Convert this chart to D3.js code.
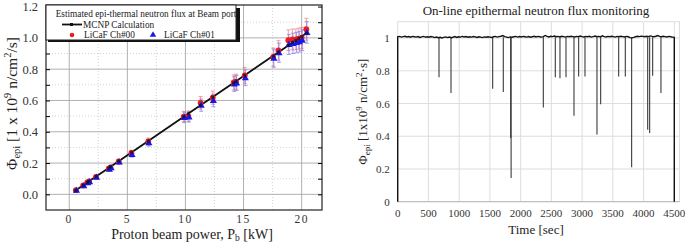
<!DOCTYPE html>
<html>
<head>
<meta charset="utf-8">
<script src="https://cdn.jsdelivr.net/npm/d3@7"></script>
<style>
  body { margin: 0; background: #fff; }
  svg { display: block; font-family: "Liberation Serif", "Times New Roman", serif; }
</style>
</head>
<body>
<div id="chart"></div>
<script>
// ---- left panel: flux vs proton beam power ----
const power = [0.57, 1.2, 1.55, 1.7, 2.3, 3.4, 3.55, 4.25, 5.35, 6.8, 9.85, 10.25, 11.3, 12.35,
    14.15, 14.35, 15.1, 17.55, 18.0, 18.85, 19.2, 19.5, 19.75, 20.0, 20.4];
const mcnp = [0.026, 0.058, 0.076, 0.083, 0.114, 0.169, 0.177, 0.212, 0.268, 0.341, 0.496, 0.516, 0.569, 0.622,
    0.713, 0.723, 0.761, 0.885, 0.908, 0.951, 0.969, 0.984, 0.997, 1.009, 1.029];
const ch00 = [0.027, 0.057, 0.077, 0.083, 0.112, 0.165, 0.172, 0.210, 0.265, 0.338, 0.497, 0.500, 0.585, 0.618,
    0.715, 0.720, 0.760, 0.877, 0.920, 0.985, 0.990, 0.990, 0.995, 1.000, 1.055];
const ch01 = [0.026, 0.055, 0.074, 0.081, 0.110, 0.161, 0.170, 0.207, 0.255, 0.330, 0.492, 0.495, 0.570, 0.600,
    0.705, 0.712, 0.745, 0.870, 0.905, 0.958, 0.965, 0.970, 0.975, 0.985, 1.035];
const ch00Err = [0.003, 0.004, 0.005, 0.005, 0.007, 0.011, 0.011, 0.014, 0.017, 0.022, 0.033, 0.033, 0.040, 0.042,
    0.048, 0.048, 0.051, 0.058, 0.062, 0.066, 0.066, 0.066, 0.067, 0.067, 0.070];
const ch01Err = [0.003, 0.004, 0.005, 0.005, 0.007, 0.011, 0.011, 0.014, 0.017, 0.022, 0.033, 0.033, 0.039, 0.040,
    0.047, 0.048, 0.050, 0.058, 0.061, 0.064, 0.065, 0.065, 0.066, 0.066, 0.069];
const leftXTicks = [0, 5, 10, 15, 20];
const leftYTicks = [0, 0.2, 0.4, 0.6, 0.8, 1.0, 1.2];

// ---- right panel: on-line monitoring (baseline every 30 s, 0..4500) ----
const baseline = [
  1.008, 1.010, 1.006, 1.009, 1.011, 1.007, 1.009, 1.005, 1.010, 1.008,
  1.006, 1.009, 1.004, 1.007, 1.010, 1.006, 1.008, 1.005, 1.009, 1.007,
  1.003, 1.006, 1.002, 1.005, 1.001, 1.004, 1.007, 1.003, 1.006, 1.002,
  1.005, 1.009, 1.004, 1.008, 1.006, 1.010, 1.007, 1.009, 1.005, 1.008,
  1.006, 1.009, 1.007, 1.004, 1.008, 1.006, 1.003, 1.007, 1.005, 1.008,
  1.006, 1.004, 1.008, 1.010, 1.006, 1.009, 1.011, 1.015, 1.009, 1.006,
  1.003, 1.007, 1.005, 1.008, 1.010, 1.006, 1.009, 1.007, 1.010, 1.008,
  1.006, 1.009, 1.005, 1.008, 1.011, 1.007, 1.010, 1.008, 1.006, 1.009,
  1.016, 1.010, 1.007, 1.011, 1.009, 1.012, 1.008, 1.010, 1.007, 1.011,
  1.009, 1.006, 1.010, 1.008, 1.011, 1.009, 1.007, 1.010, 1.008, 1.012,
  1.009, 1.007, 1.010, 1.008, 1.011, 1.006, 1.009, 1.012, 1.008, 1.010,
  1.007, 1.014, 1.009, 1.007, 1.010, 1.008, 1.011, 1.009, 1.006, 1.010,
  1.008, 1.011, 1.009, 1.007, 1.010, 1.008, 1.003, 1.001, 1.004, 1.008,
  1.011, 1.009, 1.012, 1.010, 1.008, 1.011, 1.009, 1.013, 1.010, 1.008,
  1.011, 1.015, 1.010, 1.008, 1.011, 1.009, 1.007, 1.010, 1.008, 1.006,
  1.004
];
const dipTime = [672, 867, 1545, 1718, 1838, 1845, 2369, 2564, 2640, 2738, 2868, 2944, 3047, 3242, 3302,
    3595, 3703, 3806, 4067, 4099, 4148, 4283];
const dipValue = [0.76, 0.665, 0.69, 0.67, 0.39, 0.145, 0.575, 0.76, 0.755, 0.76, 0.525, 0.765, 0.765, 0.41, 0.595,
    0.765, 0.765, 0.21, 0.44, 0.42, 0.77, 0.665];
const rightXTicks = [0, 500, 1000, 1500, 2000, 2500, 3000, 3500, 4000, 4500];
const rightYTicks = [0, 0.2, 0.4, 0.6, 0.8, 1];

const W = 685, H = 243;
const svg = d3.select("#chart").append("svg").attr("width", W).attr("height", H);

// ================= LEFT =================
const L = {left: 46, right: 322, top: 5, bottom: 210};
const x1 = d3.scaleLinear().domain([-2, 21.75]).range([L.left, L.right]);
const y1 = d3.scaleLinear().domain([-0.1, 1.21]).range([L.bottom, L.top]);
const left = svg.append("g");

// grid: dotted halves, solid majors
const minorX = [2.5, 7.5, 12.5, 17.5];
const minorY = [0.1, 0.3, 0.5, 0.7, 0.9, 1.1];
left.append("g").selectAll("line").data(minorX).join("line")
    .attr("x1", d => x1(d)).attr("x2", d => x1(d)).attr("y1", L.top).attr("y2", L.bottom)
    .attr("stroke", "#c8c8c8").attr("stroke-width", 0.8).attr("stroke-dasharray", "1,2");
left.append("g").selectAll("line").data(minorY).join("line")
    .attr("y1", d => y1(d)).attr("y2", d => y1(d)).attr("x1", L.left).attr("x2", L.right)
    .attr("stroke", "#c8c8c8").attr("stroke-width", 0.8).attr("stroke-dasharray", "1,2");
left.append("g").selectAll("line").data(leftXTicks).join("line")
    .attr("x1", d => x1(d)).attr("x2", d => x1(d)).attr("y1", L.top).attr("y2", L.bottom)
    .attr("stroke", "#a8a8a8").attr("stroke-width", 0.9);
left.append("g").selectAll("line").data(leftYTicks.slice(0, -1)).join("line")
    .attr("y1", d => y1(d)).attr("y2", d => y1(d)).attr("x1", L.left).attr("x2", L.right)
    .attr("stroke", "#a8a8a8").attr("stroke-width", 0.9);

// frame
left.append("rect").attr("x", L.left).attr("y", L.top)
    .attr("width", L.right - L.left).attr("height", L.bottom - L.top)
    .attr("fill", "none").attr("stroke", "#222").attr("stroke-width", 1.2);

// inward ticks
const yAxisL = d3.axisLeft(y1).tickValues(leftYTicks.concat(minorY)).tickSize(-4).tickFormat("");
left.append("g").attr("transform", `translate(${L.left},0)`).call(yAxisL)
    .call(g => g.select(".domain").remove());
const yAxisR = d3.axisRight(y1).tickValues(leftYTicks.concat(minorY)).tickSize(-4).tickFormat("");
left.append("g").attr("transform", `translate(${L.right},0)`).call(yAxisR)
    .call(g => g.select(".domain").remove());

// tick labels
left.append("g").selectAll("text").data(leftYTicks).join("text")
    .attr("x", L.left - 8).attr("y", d => y1(d) + 4.5)
    .attr("text-anchor", "end").attr("font-size", 12.5).attr("fill", "#333")
    .text(d => d.toFixed(1));
left.append("g").selectAll("text").data(leftXTicks).join("text")
    .attr("x", d => x1(d)).attr("y", 223)
    .attr("text-anchor", "middle").attr("font-size", 11.5).attr("letter-spacing", 1.5).attr("fill", "#333")
    .text(d => d);

// axis titles
const xt = left.append("text").attr("x", (L.left + L.right) / 2 + 8).attr("y", 238.5)
    .attr("text-anchor", "middle").attr("font-size", 14).attr("fill", "#222");
xt.append("tspan").text("Proton beam power, P");
xt.append("tspan").attr("font-size", 9.5).attr("dy", 2.5).text("b");
xt.append("tspan").attr("dy", -2.5).text(" [kW]");

const yt = left.append("text").attr("transform", `translate(17,${(L.top + L.bottom) / 2 - 4}) rotate(-90)`)
    .attr("text-anchor", "middle").attr("font-size", 15.5).attr("fill", "#222");
yt.append("tspan").text("Φ");
yt.append("tspan").attr("font-size", 10.5).attr("dy", 3).text("epi");
yt.append("tspan").attr("dy", -3).text(" [1 x 10");
yt.append("tspan").attr("font-size", 10.5).attr("dy", -6).text("9");
yt.append("tspan").attr("dy", 6).text(" n/cm");
yt.append("tspan").attr("font-size", 10.5).attr("dy", -6).text("2");
yt.append("tspan").attr("dy", 6).text("/s]");

// error bars
const pts = power.map((p, i) => ({p, m: mcnp[i], a: ch00[i], b: ch01[i], ea: ch00Err[i], eb: ch01Err[i]}));
function errBars(key, ekey, color, dx) {
  const g = left.append("g").attr("stroke", color).attr("stroke-width", 0.9).attr("opacity", 0.75);
  g.selectAll(".v").data(pts).join("line")
      .attr("x1", d => x1(d.p) + dx).attr("x2", d => x1(d.p) + dx)
      .attr("y1", d => y1(d[key] - d[ekey])).attr("y2", d => y1(d[key] + d[ekey]));
  g.selectAll(".t").data(pts).join("line")
      .attr("x1", d => x1(d.p) + dx - 2).attr("x2", d => x1(d.p) + dx + 2)
      .attr("y1", d => y1(d[key] + d[ekey])).attr("y2", d => y1(d[key] + d[ekey]));
  g.selectAll(".b").data(pts).join("line")
      .attr("x1", d => x1(d.p) + dx - 2).attr("x2", d => x1(d.p) + dx + 2)
      .attr("y1", d => y1(d[key] - d[ekey])).attr("y2", d => y1(d[key] - d[ekey]));
}
errBars("a", "ea", "#f07070", 0);
errBars("b", "eb", "#6f6ff0", 0.6);

// MCNP line
const line1 = d3.line().x(d => x1(d.p)).y(d => y1(d.m));
left.append("path").datum(pts).attr("d", line1)
    .attr("fill", "none").attr("stroke", "#111").attr("stroke-width", 1.8);

// markers
left.append("g").selectAll("circle").data(pts).join("circle")
    .attr("cx", d => x1(d.p)).attr("cy", d => y1(d.a)).attr("r", 2.9).attr("fill", "#ee1c1c");
const tri = d3.symbol().type(d3.symbolTriangle).size(22);
left.append("g").selectAll("path").data(pts).join("path")
    .attr("transform", d => `translate(${x1(d.p) + 0.6},${y1(d.b) + 0.5})`)
    .attr("d", tri).attr("fill", "#1818e6");
left.append("g").selectAll("rect").data(pts).join("rect")
    .attr("x", d => x1(d.p) - 1.5).attr("y", d => y1(d.m) - 1.5).attr("width", 3).attr("height", 3)
    .attr("fill", "#111").attr("opacity", 0.7);

// legend with drop shadow
const lg = left.append("g");
lg.append("rect").attr("x", L.left + 2).attr("y", 8).attr("width", 192).attr("height", 34).attr("fill", "#111");
lg.append("rect").attr("x", L.left).attr("y", L.top).attr("width", 190).attr("height", 35)
    .attr("fill", "#fff").attr("stroke", "#222").attr("stroke-width", 1);
lg.append("text").attr("x", 146).attr("y", 16.5).attr("text-anchor", "middle")
    .attr("font-size", 9.3).attr("fill", "#222").text("Estimated epi-thermal neutron flux at Beam port");
lg.append("line").attr("x1", 62).attr("x2", 82).attr("y1", 24.5).attr("y2", 24.5)
    .attr("stroke", "#111").attr("stroke-width", 1.8);
lg.append("rect").attr("x", 70).attr("y", 23).attr("width", 3).attr("height", 3).attr("fill", "#111");
lg.append("text").attr("x", 83).attr("y", 28).attr("font-size", 9.3).attr("fill", "#222").text("MCNP Calculation");
lg.append("circle").attr("cx", 72).attr("cy", 35).attr("r", 2.3).attr("fill", "#ee1c1c");
lg.append("text").attr("x", 84).attr("y", 38).attr("font-size", 9.3).attr("fill", "#222").text("LiCaF Ch#00");
lg.append("path").attr("transform", "translate(153,35)").attr("d", d3.symbol().type(d3.symbolTriangle).size(18))
    .attr("fill", "#1818e6");
lg.append("text").attr("x", 164).attr("y", 38).attr("font-size", 9.3).attr("fill", "#222").text("LiCaF Ch#01");

// ================= RIGHT =================
const R = {left: 397.7, top: 21.7, bottom: 201.7};
const x2 = d3.scaleLinear().domain([0, 4500]).range([R.left, 674.3]);
const y2 = d3.scaleLinear().domain([0, 1.1]).range([R.bottom, R.top]);
const right = svg.append("g");

right.append("g").selectAll("line").data(rightXTicks.slice(1)).join("line")
    .attr("x1", d => x2(d)).attr("x2", d => x2(d)).attr("y1", R.top).attr("y2", R.bottom)
    .attr("stroke", "#dedede").attr("stroke-width", 1);
right.append("g").selectAll("line").data(rightYTicks.slice(1)).join("line")
    .attr("y1", d => y2(d)).attr("y2", d => y2(d)).attr("x1", R.left).attr("x2", 679.5)
    .attr("stroke", "#dedede").attr("stroke-width", 1);
right.append("rect").attr("x", R.left).attr("y", R.top).attr("width", 679.5 - R.left).attr("height", R.bottom - R.top)
    .attr("fill", "none").attr("stroke", "#dedede").attr("stroke-width", 1);
right.append("line").attr("x1", R.left).attr("x2", 679.5).attr("y1", R.bottom).attr("y2", R.bottom)
    .attr("stroke", "#b8b8b8").attr("stroke-width", 1);

right.append("g").selectAll("text").data(rightYTicks).join("text")
    .attr("x", R.left - 8).attr("y", d => y2(d) + 4)
    .attr("text-anchor", "end").attr("font-size", 11).attr("fill", "#333").text(d => d);
right.append("g").selectAll("text").data(rightXTicks).join("text")
    .attr("x", d => x2(d)).attr("y", 217)
    .attr("text-anchor", "middle").attr("font-size", 11).attr("fill", "#333").text(d => d);

right.append("text").attr("x", 536).attr("y", 15).attr("text-anchor", "middle")
    .attr("font-size", 13).attr("fill", "#222").text("On-line epithermal neutron flux monitoring");
right.append("text").attr("x", 536).attr("y", 234).attr("text-anchor", "middle")
    .attr("font-size", 13).attr("fill", "#222").text("Time [sec]");
const yt2 = right.append("text").attr("transform", `translate(367,${(R.top + R.bottom) / 2}) rotate(-90)`)
    .attr("text-anchor", "middle").attr("font-size", 13).attr("fill", "#222");
yt2.append("tspan").text("Φ");
yt2.append("tspan").attr("font-size", 9).attr("dy", 3).text("epi");
yt2.append("tspan").attr("dy", -3).text(" [1x10");
yt2.append("tspan").attr("font-size", 9).attr("dy", -5).text("9");
yt2.append("tspan").attr("dy", 5).text(" n/cm");
yt2.append("tspan").attr("font-size", 9).attr("dy", -5).text("2");
yt2.append("tspan").attr("dy", 5).text("·s]");

// dips as vertical drops from baseline
right.append("g").selectAll("line").data(dipTime.map((t, i) => ({t, v: dipValue[i]}))).join("line")
    .attr("x1", d => x2(d.t)).attr("x2", d => x2(d.t))
    .attr("y1", y2(1.005)).attr("y2", d => y2(d.v))
    .attr("stroke", "#3a3a3a").attr("stroke-width", 1.1);

// baseline series, starting and ending at zero
const series = [{t: 0, v: 0}].concat(baseline.map((v, i) => ({t: i * 30, v})), [{t: 4500, v: 0}]);
right.append("path").datum(series)
    .attr("d", d3.line().x(d => x2(d.t)).y(d => y2(d.v)))
    .attr("fill", "none").attr("stroke", "#111").attr("stroke-width", 1.4);
</script>
</body>
</html>
